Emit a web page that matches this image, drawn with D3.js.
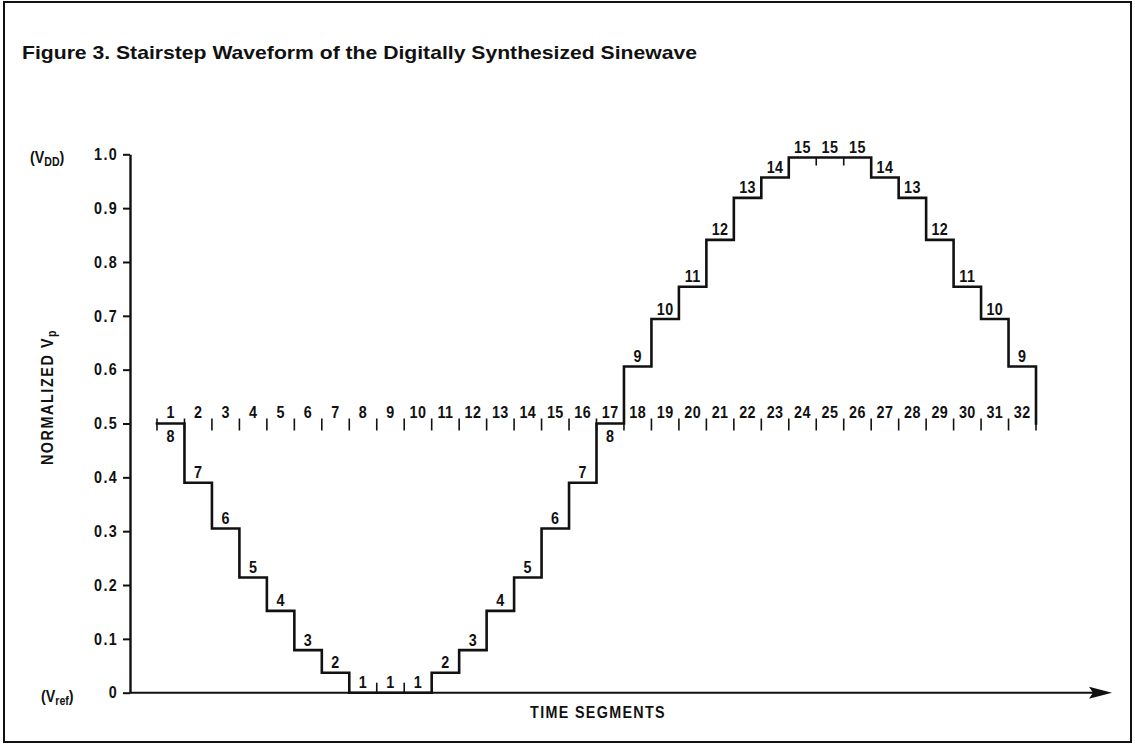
<!DOCTYPE html>
<html>
<head>
<meta charset="utf-8">
<title>Stairstep Waveform of the Digitally Synthesized Sinewave</title>
<script src="https://cdn.jsdelivr.net/npm/d3@7/dist/d3.min.js"></script>
<style>
  html, body { margin: 0; padding: 0; background: #fff; }
  svg { display: block; }
  .lbl { font-family: 'Liberation Sans', Arial, Helvetica, sans-serif; font-weight: bold; fill: #111; }
</style>
</head>
<body>
<svg id="chart" width="1135" height="747"></svg>
<script>
// Time segment numbers written along the 0.5 line
const segmentLabels = ["1","2","3","4","5","6","7","8","9","10","11","12","13","14","15","16",
                       "17","18","19","20","21","22","23","24","25","26","27","28","29","30","31","32"];

// DAC step code held during each time segment
const stepLevels = [8,7,6,5,4,3,2,1,1,1,2,3,4,5,6,7,8,9,10,11,12,13,14,15,15,15,14,13,12,11,10,9];

// Normalized Vp for step codes 1..15
const levelValues = [0, 0.037, 0.079, 0.152, 0.214, 0.305, 0.390, 0.5, 0.606, 0.694, 0.754, 0.841, 0.919, 0.957, 0.994];

// Y axis ticks
const yTicks = [0, 0.1, 0.2, 0.3, 0.4, 0.5, 0.6, 0.7, 0.8, 0.9, 1.0];
const yTickLabels = ["0", "0.1", "0.2", "0.3", "0.4", "0.5", "0.6", "0.7", "0.8", "0.9", "1.0"];

const midLevel = 0.5;
const INK = "#111";
const FS = 16.3;   // label font size
const SX = 0.88;   // horizontal squeeze for a condensed look

const svg = d3.select("#chart");

// condensed text placed at (px, py)
function label(parent, px, py, size) {
  return parent.append("text").attr("class", "lbl")
    .attr("font-size", size || FS)
    .attr("transform", `translate(${px},${py}) scale(${SX},1)`);
}

// frame
svg.append("rect")
  .attr("x", 4).attr("y", 2).attr("width", 1127).attr("height", 740)
  .attr("fill", "none").attr("stroke", INK).attr("stroke-width", 2);

// title
svg.append("text").attr("class", "lbl")
  .attr("x", 22).attr("y", 59)
  .attr("font-size", 18.5)
  .attr("textLength", 675).attr("lengthAdjust", "spacingAndGlyphs")
  .text("Figure 3. Stairstep Waveform of the Digitally Synthesized Sinewave");

const x = d3.scaleLinear().domain([0, segmentLabels.length]).range([157, 1036]);
const y = d3.scaleLinear().domain([0, 1]).range([692.7, 154.3]);
const axisX = 130;

// y axis
const yAxis = svg.append("g")
  .attr("transform", `translate(${axisX},0)`)
  .call(d3.axisLeft(y).tickValues(yTicks).tickFormat((d, i) => yTickLabels[i])
        .tickSize(7).tickSizeOuter(0).tickPadding(5));
yAxis.attr("font-family", null).attr("font-size", null);
yAxis.select(".domain").attr("stroke", INK).attr("stroke-width", 2.4);
yAxis.selectAll(".tick line").attr("stroke", INK).attr("stroke-width", 2);
yAxis.selectAll(".tick text")
  .attr("class", "lbl").attr("font-size", FS).attr("letter-spacing", 1.5)
  .attr("fill", INK)
  .attr("x", -12 / SX)
  .attr("transform", `scale(${SX},1)`);

// x axis with arrow
const y0 = y(0);
svg.append("line")
  .attr("x1", axisX).attr("x2", 1094).attr("y1", y0).attr("y2", y0)
  .attr("stroke", INK).attr("stroke-width", 2);
svg.append("path")
  .attr("d", `M1089,${y0 - 6}L1112,${y0}L1089,${y0 + 6}L1093,${y0}Z`)
  .attr("fill", INK);

// axis captions
const vdd = label(svg, 30, 163);
vdd.append("tspan").text("(V");
vdd.append("tspan").attr("font-size", 12).attr("dy", 3).text("DD");
vdd.append("tspan").attr("dy", -3).text(")");

const vref = label(svg, 41, 702);
vref.append("tspan").text("(V");
vref.append("tspan").attr("font-size", 12).attr("dy", 3).text("ref");
vref.append("tspan").attr("dy", -3).text(")");

const yTitle = svg.append("text").attr("class", "lbl").attr("font-size", FS)
  .attr("letter-spacing", 1.8)
  .attr("text-anchor", "middle")
  .attr("transform", `translate(53,397) rotate(-90) scale(${SX},1)`);
yTitle.append("tspan").text("NORMALIZED V");
yTitle.append("tspan").attr("font-size", 12).attr("dy", 3).text("p");

label(svg, 598, 718)
  .attr("letter-spacing", 1.5)
  .attr("text-anchor", "middle")
  .text("TIME SEGMENTS");

// stairstep waveform
const pts = stepLevels.map((L, i) => [i, levelValues[L - 1]]);
pts.push([stepLevels.length, midLevel]);
svg.append("path")
  .datum(pts)
  .attr("d", d3.line().x(d => x(d[0])).y(d => y(d[1])).curve(d3.curveStepAfter))
  .attr("fill", "none").attr("stroke", INK).attr("stroke-width", 2.6)
  .attr("stroke-linejoin", "miter").attr("stroke-linecap", "square");

// segment boundary ticks on the 0.5 line
const yMid = y(midLevel);
svg.append("g").selectAll("line")
  .data(d3.range(segmentLabels.length + 1))
  .join("line")
  .attr("x1", d => x(d)).attr("x2", d => x(d))
  .attr("y1", yMid - 5).attr("y2", yMid + 7)
  .attr("stroke", INK).attr("stroke-width", 1.6);

// ticks between neighbouring segments that hold the same step
const sameBounds = d3.range(1, stepLevels.length)
  .filter(b => stepLevels[b] === stepLevels[b - 1] && levelValues[stepLevels[b] - 1] !== midLevel);
svg.append("g").selectAll("line")
  .data(sameBounds)
  .join("line")
  .attr("x1", d => x(d)).attr("x2", d => x(d))
  .attr("y1", d => y(levelValues[stepLevels[d] - 1]))
  .attr("y2", d => {
    const v = levelValues[stepLevels[d] - 1];
    return v < midLevel ? y(v) - 10 : y(v) + 8;
  })
  .attr("stroke", INK).attr("stroke-width", 1.6);

// segment numbers
svg.append("g").selectAll("text")
  .data(segmentLabels)
  .join("text")
  .attr("class", "lbl").attr("font-size", FS).attr("letter-spacing", 0.5)
  .attr("text-anchor", "middle")
  .attr("transform", (d, i) => `translate(${x(i + 0.5)},${yMid - 6}) scale(${SX},1)`)
  .text(d => d);

// step codes
svg.append("g").selectAll("text")
  .data(stepLevels)
  .join("text")
  .attr("class", "lbl").attr("font-size", FS).attr("letter-spacing", 0.5)
  .attr("text-anchor", "middle")
  .attr("transform", (d, i) => {
    const v = levelValues[d - 1];
    const py = v === midLevel ? y(v) + 18 : y(v) - 4.5;
    return `translate(${x(i + 0.5)},${py}) scale(${SX},1)`;
  })
  .text(d => d);
</script>
</body>
</html>
